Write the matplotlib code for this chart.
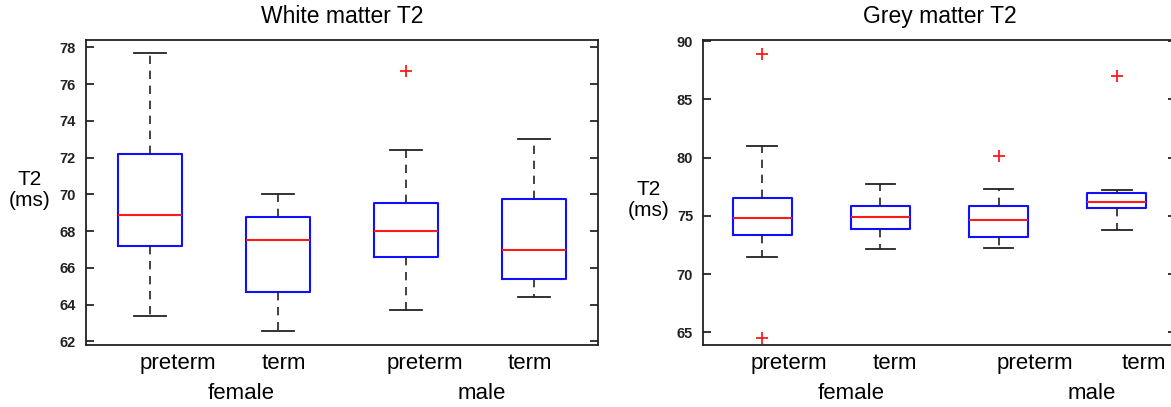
import matplotlib
matplotlib.use('Agg')
import matplotlib.pyplot as plt

plt.rcParams['font.family'] = ['Liberation Sans', 'DejaVu Sans']

# Data (ms)
groups = ['female preterm', 'female term', 'male preterm', 'male term']
positions = [1, 2, 3, 4]

# White matter T2
wm_low = [63.40, 62.57, 63.69, 64.44]
wm_q1 = [67.17, 64.66, 66.61, 65.40]
wm_med = [68.86, 67.50, 67.99, 66.95]
wm_q3 = [72.18, 68.77, 69.52, 69.75]
wm_high = [77.69, 70.01, 72.41, 72.99]
wm_out = [[], [], [76.71], []]

# Grey matter T2
gm_low = [71.49, 72.15, 72.27, 73.78]
gm_q1 = [73.38, 73.90, 73.15, 75.67]
gm_med = [74.81, 74.93, 74.67, 76.21]
gm_q3 = [76.56, 75.81, 75.81, 76.96]
gm_high = [81.02, 77.73, 77.33, 77.21]
gm_out = [[88.88, 64.51], [], [80.13], [86.97]]

# tick label text
cond_labels = ['preterm', 'term', 'preterm', 'term']
sex_labels = ['female', 'male']


def make_stats(low, q1, med, q3, high, out):
    stats = []
    for i in range(len(low)):
        stats.append({'whislo': low[i], 'q1': q1[i], 'med': med[i], 'q3': q3[i],
                      'whishi': high[i], 'fliers': out[i]})
    return stats


def draw_panel(ax, stats, title, ylim, yticks, cond_x, sex_x, ylab_pos):
    ax.bxp(stats, positions=positions, widths=0.5, showfliers=True,
           boxprops=dict(color='#1010ff', linewidth=1.5),
           medianprops=dict(color='#ff1a1a', linewidth=1.5),
           whiskerprops=dict(color='#222222', linewidth=1.2, linestyle=(0, (5, 4))),
           capprops=dict(color='#222222', linewidth=1.3),
           capwidths=0.25,
           flierprops=dict(marker='+', markeredgecolor='#ff1a1a', markersize=9,
                           markeredgewidth=1.3, linestyle='none'))
    ax.set_xlim(0.5, 4.5)
    ax.set_ylim(*ylim)
    ax.set_yticks(yticks)
    ax.set_xticks([])
    ax.tick_params(axis='y', direction='in', length=6, width=1.1, right=True,
                   labelsize=10.5, pad=7)
    for lab in ax.get_yticklabels():
        lab.set_fontweight('bold')
        lab.set_color('#222222')
    for s in ax.spines.values():
        s.set_linewidth(1.3)
        s.set_color('#222222')
    ax.set_title(title, fontsize=16.5, pad=12)
    ax.set_ylabel('T2\n(ms)', rotation=0, fontsize=15, ha='center', va='center',
                  linespacing=1.15)
    ax.yaxis.set_label_coords(*ylab_pos)
    trans = ax.get_xaxis_transform()
    for x, t in zip(cond_x, cond_labels):
        ax.text(x, -0.06, t, transform=trans, ha='center', va='center', fontsize=16)
    for x, t in zip(sex_x, sex_labels):
        ax.text(x, -0.16, t, transform=trans, ha='center', va='center', fontsize=16)


fig = plt.figure(figsize=(11.71, 4.07), dpi=100)
ax1 = fig.add_axes([0.0732, 0.1523, 0.4375, 0.7494])
ax2 = fig.add_axes([0.6003, 0.1523, 0.4040, 0.7494])

draw_panel(ax1, make_stats(wm_low, wm_q1, wm_med, wm_q3, wm_high, wm_out),
           'White matter T2', (61.8, 78.4), range(62, 79, 2),
           [1.22, 2.05, 3.15, 3.97], [1.71, 3.59], (-0.109, 0.508))
draw_panel(ax2, make_stats(gm_low, gm_q1, gm_med, gm_q3, gm_high, gm_out),
           'Grey matter T2', (63.9, 90.1), range(65, 91, 5),
           [1.23, 2.12, 3.31, 4.23], [1.75, 3.79], (-0.114, 0.475))

fig.savefig('out.png', dpi=100)
